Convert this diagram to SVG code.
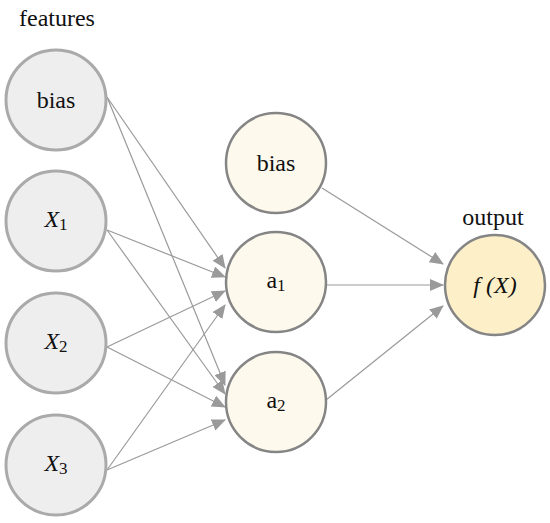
<svg xmlns="http://www.w3.org/2000/svg" width="550" height="523" viewBox="0 0 550 523">
<style>
.t{font-family:'Liberation Serif','Times New Roman','DejaVu Serif',serif;fill:#111111;font-size:24px;}
.lbl{text-anchor:middle;}
.in{fill:#eeeeee;stroke:#aaaaaa;stroke-width:3;}
.hid{fill:#fdf9ec;stroke:#858585;stroke-width:2.5;}
.out{fill:#fdf0c8;stroke:#858585;stroke-width:2.5;}
.edge{stroke:#9a9a9a;stroke-width:1.2;fill:none;marker-end:url(#ah);}
</style>
<defs>
<marker id="ah" markerUnits="userSpaceOnUse" markerWidth="14" markerHeight="12" refX="13" refY="6" orient="auto">
<path d="M0,0 L14,6 L0,12 z" fill="#9a9a9a"/>
</marker>
</defs>
<rect width="550" height="523" fill="#ffffff"/>
<text class="t" x="19" y="26">features</text>
<text class="t lbl" x="493" y="225">output</text>
<g id="connectors">
<line class="edge" x1="107" y1="97" x2="225" y2="268"/>
<line class="edge" x1="107" y1="230" x2="225" y2="277"/>
<line class="edge" x1="107" y1="347" x2="225" y2="291"/>
<line class="edge" x1="107" y1="470" x2="225" y2="305"/>
<line class="edge" x1="107" y1="97" x2="225" y2="385"/>
<line class="edge" x1="107" y1="230" x2="225" y2="394"/>
<line class="edge" x1="107" y1="347" x2="225" y2="407"/>
<line class="edge" x1="107" y1="470" x2="225" y2="420"/>
<line class="edge" x1="322" y1="188" x2="443" y2="264"/>
<line class="edge" x1="326" y1="285" x2="443" y2="285"/>
<line class="edge" x1="326" y1="400" x2="443" y2="306"/>
</g>
<g id="bias_in"><circle class="in" cx="56" cy="100" r="50"/><text class="t lbl" x="56" y="108">bias</text></g>
<g id="x1"><circle class="in" cx="56" cy="221" r="50"/><text class="t lbl" x="56" y="227"><tspan font-style="italic">X</tspan><tspan font-size="17" dy="3">1</tspan></text></g>
<g id="x2"><circle class="in" cx="56" cy="343" r="50"/><text class="t lbl" x="56" y="349"><tspan font-style="italic">X</tspan><tspan font-size="17" dy="3">2</tspan></text></g>
<g id="x3"><circle class="in" cx="56" cy="465" r="50"/><text class="t lbl" x="56" y="471"><tspan font-style="italic">X</tspan><tspan font-size="17" dy="3">3</tspan></text></g>
<g id="bias_hid"><circle class="hid" cx="276" cy="163" r="50"/><text class="t lbl" x="276" y="171">bias</text></g>
<g id="a1"><circle class="hid" cx="276" cy="282" r="50"/><text class="t lbl" x="276" y="288">a<tspan font-size="17" dy="3">1</tspan></text></g>
<g id="a2"><circle class="hid" cx="276" cy="402" r="50"/><text class="t lbl" x="276" y="408">a<tspan font-size="17" dy="3">2</tspan></text></g>
<g id="output"><circle class="out" cx="495" cy="285" r="50"/><text class="t lbl" x="495" y="293" font-style="italic">f (X)</text></g>
</svg>
